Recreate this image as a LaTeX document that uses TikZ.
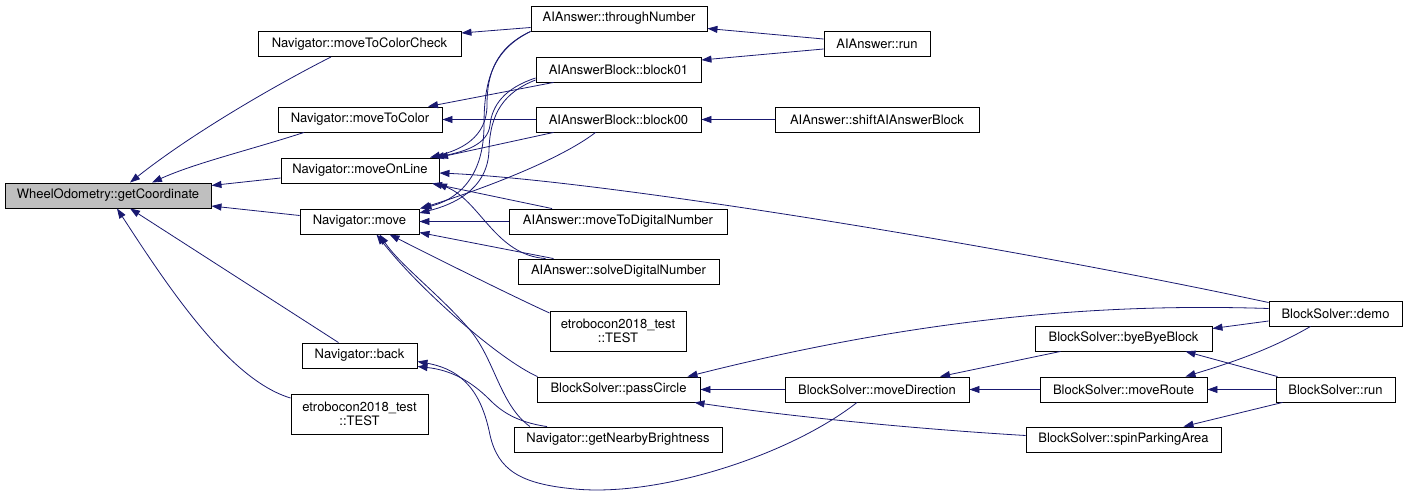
\documentclass[tikz,border=0pt]{standalone}
\usepackage{fontspec}
\setmainfont{TeX Gyre Heros}
\usetikzlibrary{arrows.meta}
\definecolor{edgeblue}{HTML}{191970}
\definecolor{graynode}{HTML}{BFBFBF}
\tikzset{
  fbox/.style={draw=black, line width=0.9pt, fill=white, inner sep=0pt,
    minimum height=25pt, font=\fontsize{13}{14}\selectfont, align=center},
  edge/.style={draw=edgeblue, line width=0.8pt,
    -{Triangle[length=10pt,width=7pt]}},
}
\begin{document}
\begin{tikzpicture}[x=1pt,y=-1pt]
\useasboundingbox (0,0) rectangle (1408,495);
% nodes
\node[fbox, fill=graynode, minimum width=206pt] (gc) at (108,195.5) {WheelOdometry::getCoordinate};
\node[fbox, minimum width=203pt] (mtcc) at (359.5,44) {Navigator::moveToColorCheck};
\node[fbox, minimum width=164pt] (mtc) at (360,119.5) {Navigator::moveToColor};
\node[fbox, minimum width=158pt] (mol) at (360,170.5) {Navigator::moveOnLine};
\node[fbox, minimum width=119pt] (mv) at (359.5,221.5) {Navigator::move};
\node[fbox, minimum width=115pt] (bk) at (359.5,355.5) {Navigator::back};
\node[fbox, minimum width=137pt, minimum height=40pt] (testA) at (359.5,414) {etrobocon2018\_test\\::TEST};
\node[fbox, minimum width=176pt] (tn) at (619,18.5) {AIAnswer::throughNumber};
\node[fbox, minimum width=165pt] (b01) at (618.5,69.5) {AIAnswerBlock::block01};
\node[fbox, minimum width=165pt] (b00) at (618.5,119.5) {AIAnswerBlock::block00};
\node[fbox, minimum width=218pt] (mtdn) at (618,221.5) {AIAnswer::moveToDigitalNumber};
\node[fbox, minimum width=201pt] (sdn) at (618.5,271.5) {AIAnswer::solveDigitalNumber};
\node[fbox, minimum width=136pt, minimum height=40pt] (testB) at (618,331) {etrobocon2018\_test\\::TEST};
\node[fbox, minimum width=163pt] (pc) at (618.5,389.5) {BlockSolver::passCircle};
\node[fbox, minimum width=208pt] (gnb) at (618,439.5) {Navigator::getNearbyBrightness};
\node[fbox, minimum width=106pt] (airun) at (877,44) {AIAnswer::run};
\node[fbox, minimum width=204pt] (shift) at (877,119.5) {AIAnswer::shiftAIAnswerBlock};
\node[fbox, minimum width=184pt] (md) at (877,389.5) {BlockSolver::moveDirection};
\node[fbox, minimum width=177pt] (bbb) at (1123.5,338.5) {BlockSolver::byeByeBlock};
\node[fbox, minimum width=167pt] (mr) at (1123.5,389.5) {BlockSolver::moveRoute};
\node[fbox, minimum width=195pt] (spa) at (1123.5,439.5) {BlockSolver::spinParkingArea};
\node[fbox, minimum width=133pt] (demo) at (1335.5,313.5) {BlockSolver::demo};
\node[fbox, minimum width=119pt] (bsrun) at (1335.5,389.5) {BlockSolver::run};
% edges into getCoordinate
\draw[edge] ([xshift=-28.5pt]mtcc.south) .. controls (270,88) and (190,135) .. ([xshift=22pt]gc.north);
\draw[edge] ([xshift=-56pt]mtc.south) .. controls (250,150) and (195,163) .. ([xshift=44pt]gc.north);
\draw[edge] ([yshift=-7.5pt]mol.west) -- ([yshift=10pt]gc.east);
\draw[edge] ([yshift=6pt]mv.west) -- ([yshift=-10.5pt]gc.east);
\draw[edge] ([xshift=-21pt]bk.north) -- ([xshift=22pt]gc.south);
\draw[edge] ([yshift=16pt]testA.west) .. controls (230,380) and (170,290) .. ([xshift=9pt]gc.south);
% second column into first
\draw[edge] ([yshift=-9pt]tn.west) -- ([yshift=11pt]mtcc.east);
\draw[edge] ([yshift=5pt]airun.west) -- ([yshift=-10pt]tn.east);
\draw[edge] ([yshift=-5pt]airun.west) -- ([yshift=9.5pt]b01.east);
\draw[edge] ([xshift=-65pt]b01.south) -- ([xshift=68pt]mtc.north);
\draw[edge] (b00.west) -- (mtc.east);
\draw[edge] (shift.west) -- (b00.east);
\draw[edge] ([xshift=-65pt]b00.south) -- ([xshift=78pt]mol.north);
\draw[edge] ([xshift=-23pt]b00.south) .. controls (560,160) and (480,190) .. ([xshift=60.5pt]mv.north);
\draw[edge] (tn.south west) .. controls (495,48) and (487,75) .. (487,105) .. controls (487,138) and (460,150) .. ([xshift=70pt]mol.north);
\draw[edge] (tn.south west) .. controls (493,50) and (484,80) .. (484,125) .. controls (484,180) and (455,200) .. ([xshift=62pt]mv.north);
\draw[edge] ([yshift=-8.5pt]b01.west) .. controls (505,88) and (492,105) .. (490,125) .. controls (488,145) and (463,152) .. ([xshift=74pt]mol.north);
\draw[edge] ([yshift=-10.5pt]b01.west) .. controls (505,92) and (490,112) .. (489,150) .. controls (488,190) and (452,205) .. ([yshift=8.5pt]mv.east);
\draw[edge] ([yshift=11pt]demo.west) .. controls (1000,245) and (600,180) .. ([yshift=-2.5pt]mol.east);
\draw[edge] ([xshift=-66pt]mtdn.north) -- ([xshift=72pt]mol.south);
\draw[edge] (mtdn.west) -- (mv.east);
\draw[edge] ([xshift=-73pt]sdn.north) .. controls (495,255) and (480,200) .. ([xshift=77pt]mol.south);
\draw[edge] ([xshift=-65pt]sdn.north) -- ([yshift=-11pt]mv.east);
\draw[edge] ([yshift=18pt]testB.west) .. controls (510,295) and (430,255) .. ([xshift=30pt]mv.south);
\draw[edge] ([xshift=-81pt]pc.north) .. controls (500,360) and (420,290) .. ([xshift=17pt]mv.south);
\draw[edge] ([xshift=-88pt]gnb.north) .. controls (500,405) and (495,360) .. (470,330) .. controls (440,295) and (400,265) .. ([xshift=20pt]mv.south);
\draw[edge] ([xshift=-71pt]gnb.north) .. controls (515,422) and (500,410) .. (490,400) .. controls (470,380) and (450,370) .. ([yshift=2pt]bk.south east);
\draw[edge] ([xshift=-20pt]md.south) .. controls (790,455) and (660,497) .. (575,489) .. controls (520,484) and (498,470) .. (490,435) .. controls (482,395) and (465,370) .. ([yshift=-6pt]bk.east);
% block solver part
\draw[edge] ([yshift=5pt]demo.west) .. controls (1100,303) and (920,318) .. ([xshift=69pt]pc.north);
\draw[edge] (md.west) -- (pc.east);
\draw[edge] ([yshift=4pt]spa.west) .. controls (900,428) and (780,415) .. ([xshift=76pt]pc.south);
\draw[edge] ([xshift=-63pt]bbb.south) -- ([xshift=63pt]md.north);
\draw[edge] (mr.west) -- (md.east);
\draw[edge] ([yshift=-7.5pt]demo.west) -- ([yshift=10pt]bbb.east);
\draw[edge] ([xshift=-58pt]bsrun.north) -- ([xshift=62pt]bbb.south);
\draw[edge] ([xshift=-25pt]demo.south) .. controls (1270,350) and (1230,363) .. ([xshift=62pt]mr.north);
\draw[edge] (bsrun.west) -- (mr.east);
\draw[edge] ([xshift=-53pt]bsrun.south) -- ([xshift=60pt]spa.north);
\end{tikzpicture}
\end{document}
